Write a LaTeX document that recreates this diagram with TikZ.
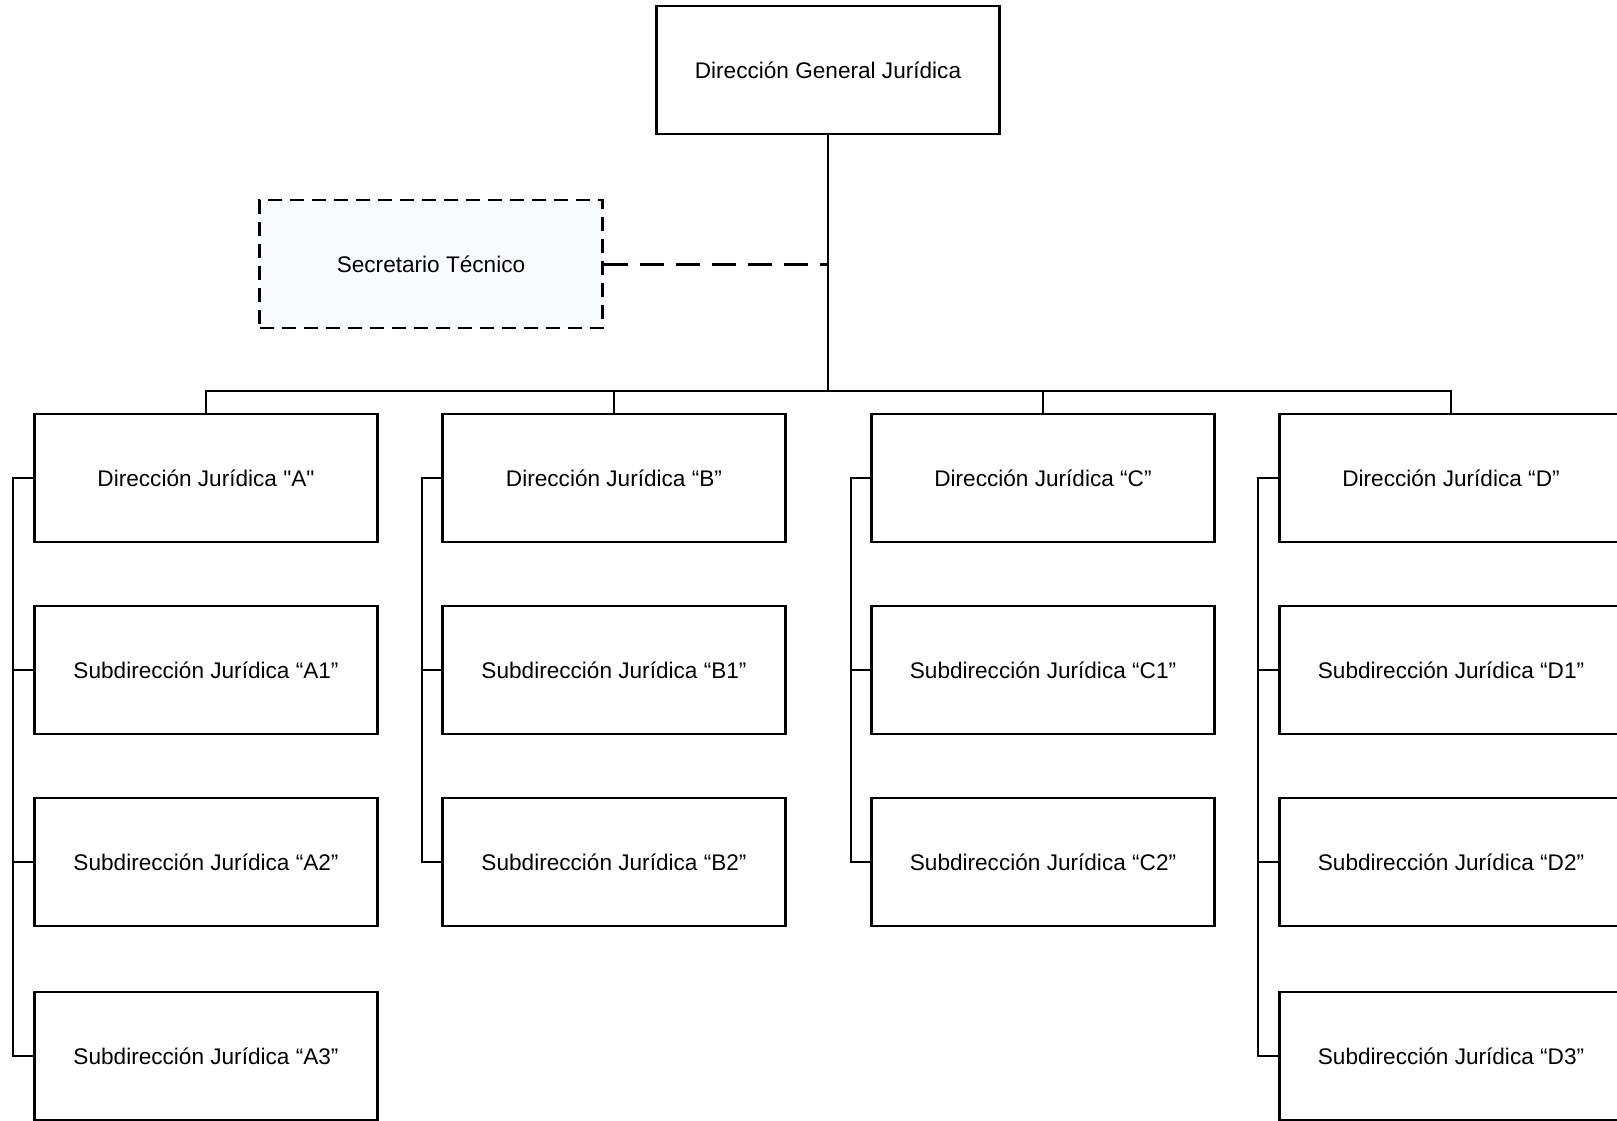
\documentclass[tikz,border=0pt]{standalone}
\usepackage{fontspec}
\newfontfamily\arialf{Liberation Sans}
\definecolor{secfill}{RGB}{247,251,253}
\begin{document}
\begin{tikzpicture}[x=1pt,y=-1pt,
  box/.style={draw=black, line width=2.3pt, minimum width=343pt, minimum height=128pt, inner sep=0pt, font=\arialf\fontsize{22.6}{26}\selectfont},
  secbox/.style={box, dash pattern=on 14pt off 8pt, fill=secfill},
  link/.style={line width=2.2pt, line cap=rect},
  dlink/.style={line width=3pt, dash pattern=on 24pt off 12pt}
]
\useasboundingbox (0,0) rectangle (1617,1120);
\clip (0,0) rectangle (1617,1120);
\fill[white] (0,0) rectangle (1617,1120);

\node[box] (top) at (828,70) {Dirección General Jurídica};
\node[secbox] (sec) at (431,264) {Secretario Técnico};

\node[box] (A)  at (206,478) {Dirección Jurídica "A"};
\node[box] (A1) at (206,670) {Subdirección Jurídica “A1”};
\node[box] (A2) at (206,862) {Subdirección Jurídica “A2”};
\node[box] (A3) at (206,1056) {Subdirección Jurídica “A3”};

\node[box] (B)  at (614,478) {Dirección Jurídica “B”};
\node[box] (B1) at (614,670) {Subdirección Jurídica “B1”};
\node[box] (B2) at (614,862) {Subdirección Jurídica “B2”};

\node[box] (C)  at (1043,478) {Dirección Jurídica “C”};
\node[box] (C1) at (1043,670) {Subdirección Jurídica “C1”};
\node[box] (C2) at (1043,862) {Subdirección Jurídica “C2”};

\node[box] (D)  at (1451,478) {Dirección Jurídica “D”};
\node[box] (D1) at (1451,670) {Subdirección Jurídica “D1”};
\node[box] (D2) at (1451,862) {Subdirección Jurídica “D2”};
\node[box] (D3) at (1451,1056) {Subdirección Jurídica “D3”};

\coordinate (bus) at (828,391);
\coordinate (xA) at (13,0);
\coordinate (xB) at (422,0);
\coordinate (xC) at (851,0);
\coordinate (xD) at (1258,0);

% main trunk
\draw[link] (top.south) -- (bus);
\draw[dlink] (sec.east) -- (sec.east -| top.south);
% bus
\draw[link] (A.north) |- (bus) -| (D.north);
\draw[link] (B.north) -- (B.north |- bus);
\draw[link] (C.north) -- (C.north |- bus);

% brackets
\draw[link] (A.west) -- (A.west -| xA) |- (A3.west);
\draw[link] (A1.west) -- (A1.west -| xA);
\draw[link] (A2.west) -- (A2.west -| xA);

\draw[link] (B.west) -- (B.west -| xB) |- (B2.west);
\draw[link] (B1.west) -- (B1.west -| xB);

\draw[link] (C.west) -- (C.west -| xC) |- (C2.west);
\draw[link] (C1.west) -- (C1.west -| xC);

\draw[link] (D.west) -- (D.west -| xD) |- (D3.west);
\draw[link] (D1.west) -- (D1.west -| xD);
\draw[link] (D2.west) -- (D2.west -| xD);
\end{tikzpicture}
\end{document}
